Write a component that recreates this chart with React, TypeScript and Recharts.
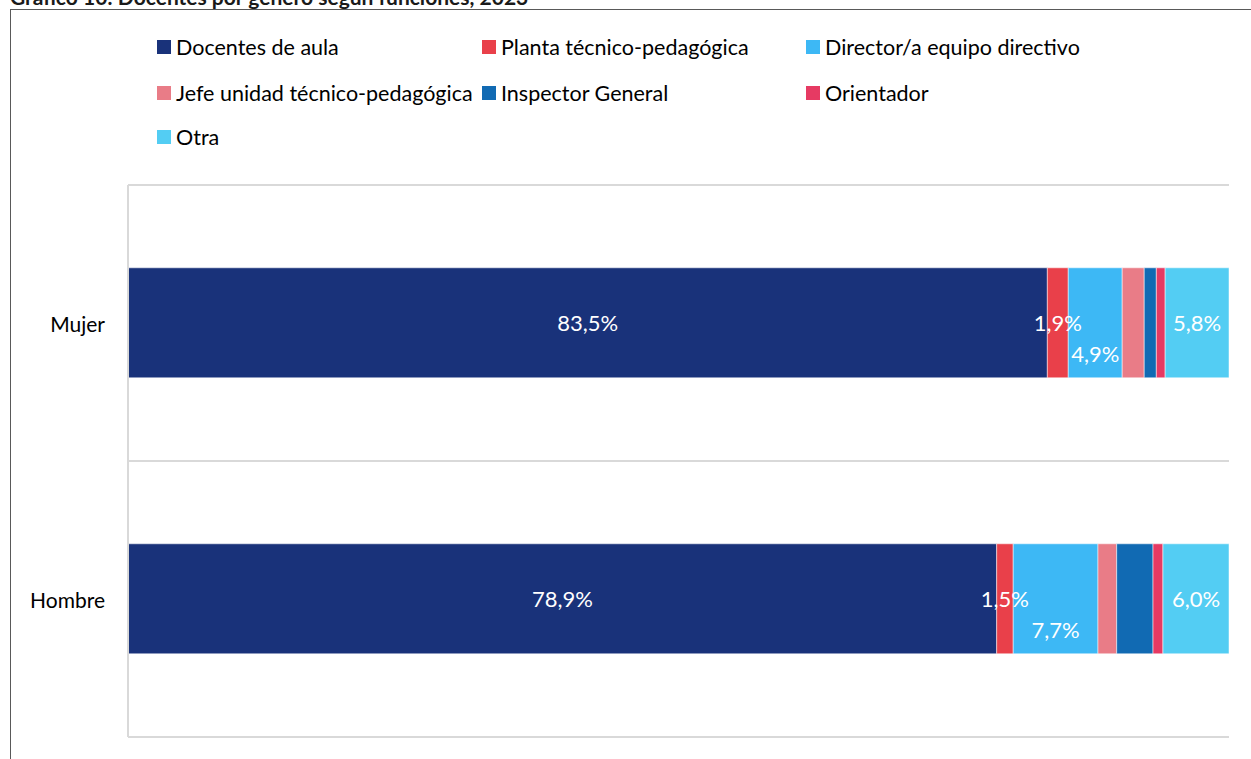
import { BarChart, Bar, XAxis, YAxis, CartesianGrid, LabelList } from 'recharts';

const categories = ['Mujer', 'Hombre'];

const seriesNames = [
    'Docentes de aula',
    'Planta técnico-pedagógica',
    'Director/a equipo directivo',
    'Jefe unidad técnico-pedagógica',
    'Inspector General',
    'Orientador',
    'Otra',
];

const seriesColors = ['#19327a', '#e9404a', '#3db8f5', '#e97c87', '#116ab3', '#e63a63', '#53cdf3'];

// values per category, same order as categories
const docentes = [83.5, 78.9];
const planta = [1.9, 1.5];
const director = [4.9, 7.7];
const jefe = [2.0, 1.7];
const inspector = [1.1, 3.3];
const orientador = [0.8, 0.9];
const otra = [5.8, 6.0];

const seriesValues = [docentes, planta, director, jefe, inspector, orientador, otra];

// which series carry a data label, and how far it is pushed down
const labelShift = [0, 0, 31, null, null, null, 0];

const data = categories.map((cat, i) => {
    const row: Record<string, string | number> = { cat };
    seriesValues.forEach((vals, s) => {
        row['s' + s] = vals[i];
    });
    return row;
});

const font = 'Lato, "Open Sans", sans-serif';

const fmt = (v: number) => v.toFixed(1).replace('.', ',') + '%';

const makeLabel = (dy: number) => (props: any) => {
    const { x, y, width, height, value } = props;
    return (
        <text
            x={x + width / 2}
            y={y + height / 2 + dy}
            fill="#ffffff"
            fontSize={22}
            fontFamily={font}
            textAnchor="middle"
            dominantBaseline="central"
        >
            {fmt(Number(value))}
        </text>
    );
};

const CatTick = (props: any) => {
    const { x, y, payload } = props;
    return (
        <text
            x={x - 15}
            y={y}
            fill="#000000"
            fontSize={21}
            fontFamily={font}
            textAnchor="end"
            dominantBaseline="central"
        >
            {payload.value}
        </text>
    );
};

const legendCols = [157, 482, 806];
const legendRows = [47, 93, 137];

export default function App() {
    return (
        <div
            style={{
                position: 'absolute',
                left: 0,
                top: 0,
                width: 1251,
                height: 759,
                overflow: 'hidden',
                background: '#ffffff',
                fontFamily: font,
            }}
        >
            <div
                style={{
                    position: 'absolute',
                    left: 10,
                    top: -14,
                    fontSize: 21,
                    lineHeight: '21px',
                    fontWeight: 700,
                    color: '#1a1a1a',
                    whiteSpace: 'nowrap',
                }}
            >
                Gráfico 10: Docentes por género según funciones, 2023
            </div>
            <div
                style={{
                    position: 'absolute',
                    left: 10,
                    top: 9,
                    width: 1251,
                    height: 760,
                    borderLeft: '1px solid #595959',
                    borderTop: '1px solid #595959',
                }}
            />
            {seriesNames.map((name, i) => (
                <div
                    key={name}
                    style={{
                        position: 'absolute',
                        left: legendCols[i % 3],
                        top: legendRows[Math.floor(i / 3)] - 14,
                        height: 28,
                        display: 'flex',
                        alignItems: 'center',
                        fontSize: 21.5,
                        color: '#000000',
                        whiteSpace: 'nowrap',
                    }}
                >
                    <span
                        style={{
                            width: 14,
                            height: 14,
                            background: seriesColors[i],
                            display: 'inline-block',
                            marginRight: 5,
                        }}
                    />
                    {name}
                </div>
            ))}
            <div style={{ position: 'absolute', left: 0, top: 0 }}>
                <BarChart
                    width={1251}
                    height={759}
                    data={data}
                    layout="vertical"
                    margin={{ top: 185, right: 22, bottom: 22, left: 8 }}
                    barCategoryGap="30%"
                >
                    <CartesianGrid
                        vertical={false}
                        stroke="#d9d9d9"
                        strokeWidth={2}
                        horizontalCoordinatesGenerator={({ offset }: any) => [
                            offset.top,
                            offset.top + offset.height / 2,
                            offset.top + offset.height,
                        ]}
                    />
                    <XAxis type="number" domain={[0, 100]} hide />
                    <YAxis
                        type="category"
                        dataKey="cat"
                        width={120}
                        tickLine={false}
                        axisLine={{ stroke: '#d9d9d9', strokeWidth: 2 }}
                        tick={<CatTick />}
                    />
                    {seriesNames.map((name, s) => (
                        <Bar
                            key={name}
                            dataKey={'s' + s}
                            name={name}
                            stackId="a"
                            fill={seriesColors[s]}
                            stroke="#ffffff"
                            strokeWidth={0.5}
                            isAnimationActive={false}
                        >
                            {labelShift[s] !== null && (
                                <LabelList dataKey={'s' + s} content={makeLabel(labelShift[s] as number)} />
                            )}
                        </Bar>
                    ))}
                </BarChart>
            </div>
        </div>
    );
}
